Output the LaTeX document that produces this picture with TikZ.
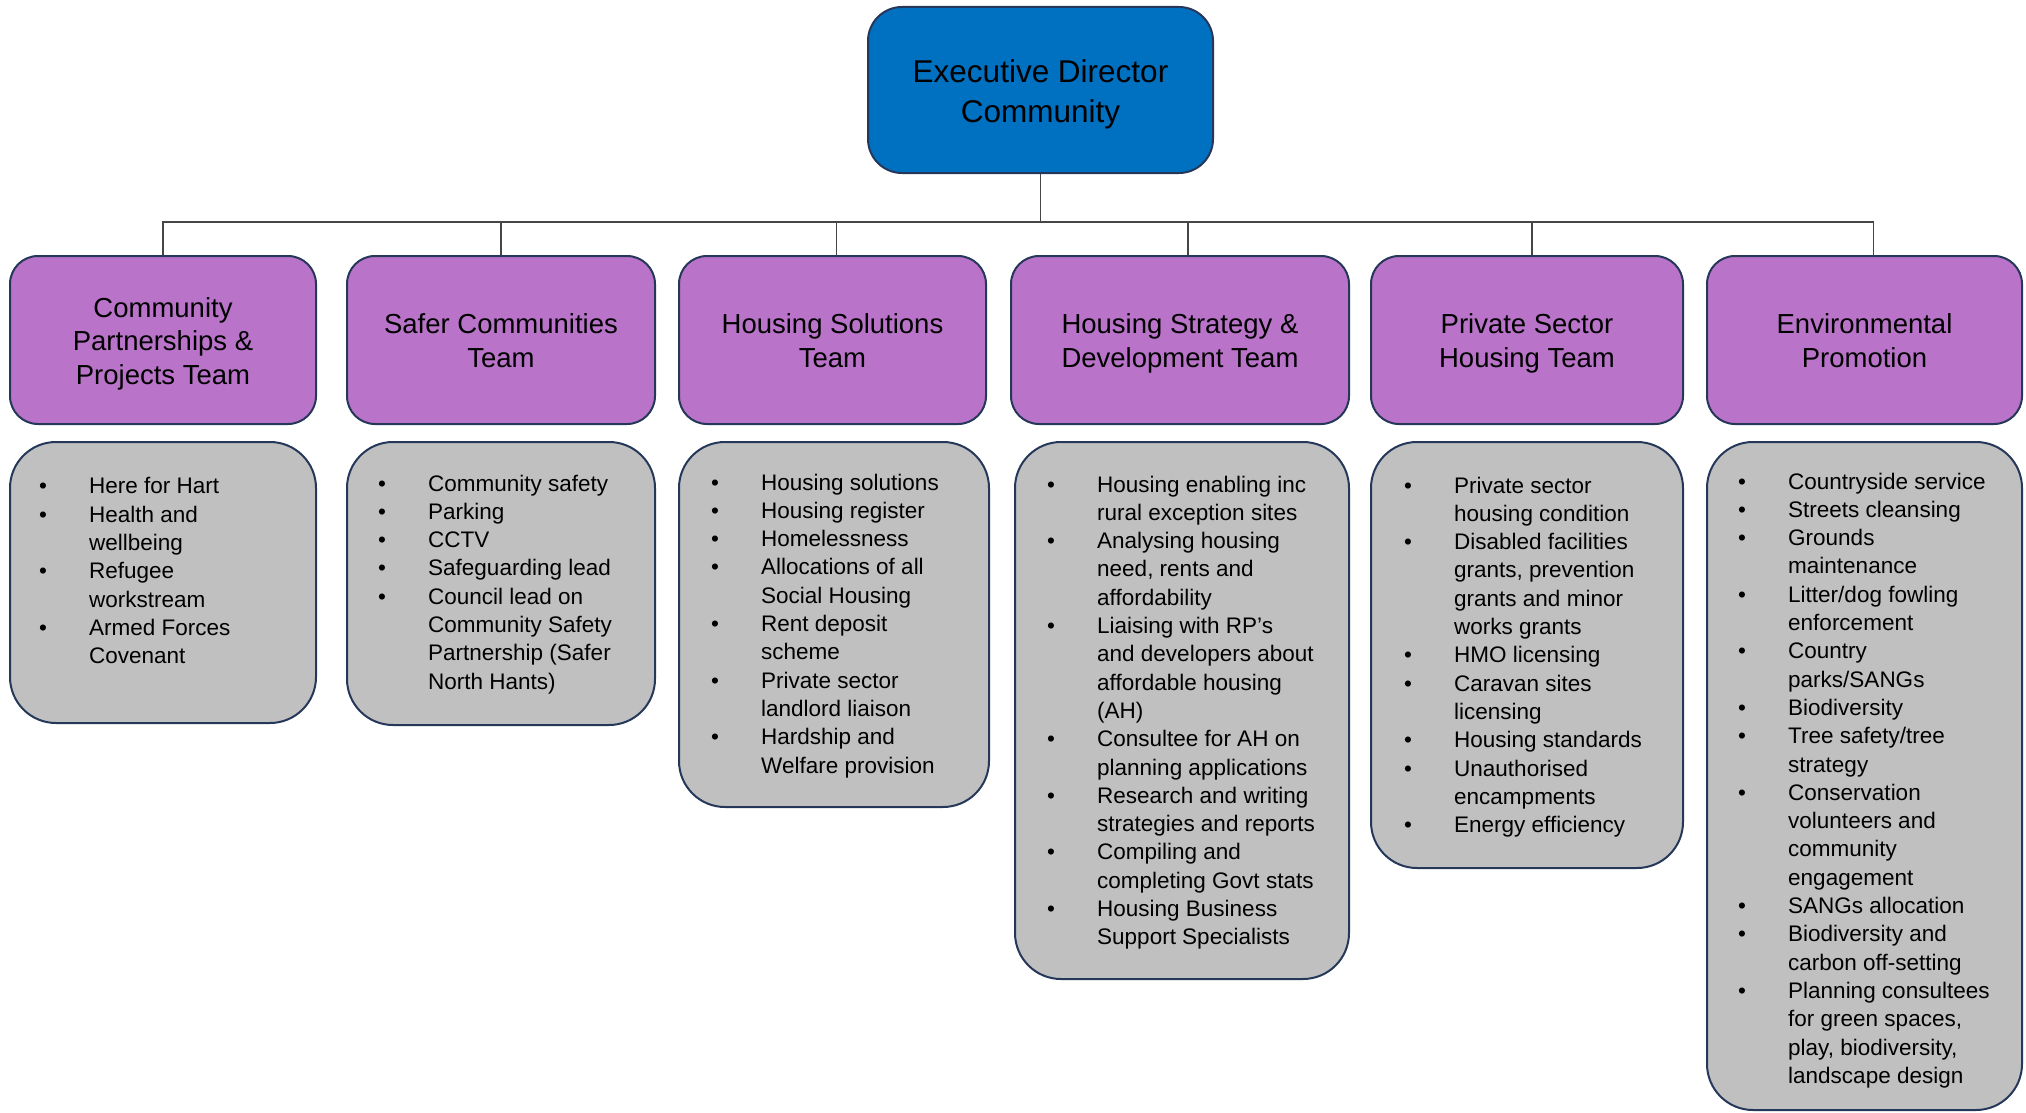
\documentclass[tikz,border=0pt]{standalone}
\usepackage{fontspec}
\setmainfont{Liberation Sans}
\definecolor{topblue}{RGB}{0,112,192}
\definecolor{hdrpurple}{RGB}{185,115,201}
\definecolor{itemgrey}{RGB}{192,192,192}
\definecolor{edgec}{RGB}{38,56,90}
\definecolor{connc}{RGB}{70,70,70}
\newcommand\bul{\makebox[50pt][l]{\textbullet}}
\newcommand\ind{\hspace*{50pt}}
\newcommand\hs{\rule{0pt}{31.5pt}}
\newcommand\ts{\rule{0pt}{38pt}}
\begin{document}
\begin{tikzpicture}[x=1pt,y=-1pt,
 topbox/.style={draw=edgec, line width=2pt, fill=topblue, rounded corners=34pt, anchor=north west, inner sep=0pt, align=center, font=\fontsize{31.5}{40}\selectfont},
 hdr/.style={draw=edgec, line width=2pt, fill=hdrpurple, rounded corners=28pt, anchor=north west, minimum height=168pt, inner sep=0pt, align=center, font=\fontsize{27.5}{33.6}\selectfont},
 itembox/.style={draw=edgec, line width=2pt, fill=itemgrey, rounded corners=46pt, anchor=north west, inner sep=0pt},
 items/.style={anchor=north west, inner sep=0pt, align=left, font=\fontsize{22.5}{28.3}\selectfont},
 conn/.style={draw=connc, line width=1.3pt}]
\useasboundingbox (0,0) rectangle (2026,1113);

\node[topbox, minimum width=345pt, minimum height=166pt] (top) at (867,6) {\ts Executive Director\\Community\strut};

\node[hdr, minimum width=306pt] (h1) at (9,255) {\hs Community\\Partnerships \&\\Projects Team\strut};
\node[hdr, minimum width=308pt] (h2) at (346,255) {\hs Safer Communities\\Team\strut};
\node[hdr, minimum width=307pt] (h3) at (678,255) {\hs Housing Solutions\\Team\strut};
\node[hdr, minimum width=338pt] (h4) at (1010,255) {\hs Housing Strategy \&\\Development Team\strut};
\node[hdr, minimum width=312pt] (h5) at (1370,255) {\hs Private Sector\\Housing Team\strut};
\node[hdr, minimum width=315pt] (h6) at (1706,255) {\hs Environmental\\Promotion\strut};

\coordinate (bus) at (1040,222);
\draw[conn] (top.south) -- (top.south |- bus) -| (h1.north);
\draw[conn] (top.south |- bus) -| (h2.north);
\draw[conn] (top.south |- bus) -| ([xshift=4pt]h3.north);
\draw[conn] (top.south |- bus) -| ([xshift=8pt]h4.north);
\draw[conn] (top.south |- bus) -| ([xshift=5pt]h5.north);
\draw[conn] (top.south |- bus) -| ([xshift=9pt]h6.north);

\node[itembox, minimum width=306pt, minimum height=281pt] (g1) at (9,441) {};
\node[itembox, minimum width=308pt, minimum height=283pt] (g2) at (346,441) {};
\node[itembox, minimum width=310pt, minimum height=365pt] (g3) at (678,441) {};
\node[itembox, minimum width=334pt, minimum height=537pt] (g4) at (1014,441) {};
\node[itembox, minimum width=312pt, minimum height=426pt] (g5) at (1370,441) {};
\node[itembox, minimum width=315pt, minimum height=668pt] (g6) at (1706,441) {};

\node[items] (t1) at (39,477.5) {\bul Here for Hart\\
\bul Health and\\ \ind wellbeing\\
\bul Refugee\\ \ind workstream\\
\bul Armed Forces\\ \ind Covenant};

\node[items] (t2) at (378,474.5) {\bul Community safety\\
\bul Parking\\
\bul CCTV\\
\bul Safeguarding lead\\
\bul Council lead on\\ \ind Community Safety\\ \ind Partnership (Safer\\ \ind North Hants)};

\node[items] (t3) at (711,473.5) {\bul Housing solutions\\
\bul Housing register\\
\bul Homelessness\\
\bul Allocations of all\\ \ind Social Housing\\
\bul Rent deposit\\ \ind scheme\\
\bul Private sector\\ \ind landlord liaison\\
\bul Hardship and\\ \ind Welfare provision};

\node[items] (t4) at (1047,475.5) {\bul Housing enabling inc\\ \ind rural exception sites\\
\bul Analysing housing\\ \ind need, rents and\\ \ind affordability\\
\bul Liaising with RP’s\\ \ind and developers about\\ \ind affordable housing\\ \ind (AH)\\
\bul Consultee for AH on\\ \ind planning applications\\
\bul Research and writing\\ \ind strategies and reports\\
\bul Compiling and\\ \ind completing Govt stats\\
\bul Housing Business\\ \ind Support Specialists};

\node[items] (t5) at (1404,476.5) {\bul Private sector\\ \ind housing condition\\
\bul Disabled facilities\\ \ind grants, prevention\\ \ind grants and minor\\ \ind works grants\\
\bul HMO licensing\\
\bul Caravan sites\\ \ind licensing\\
\bul Housing standards\\
\bul Unauthorised\\ \ind encampments\\
\bul Energy efficiency};

\node[items] (t6) at (1738,472.5) {\bul Countryside service\\
\bul Streets cleansing\\
\bul Grounds\\ \ind maintenance\\
\bul Litter/dog fowling\\ \ind enforcement\\
\bul Country\\ \ind parks/SANGs\\
\bul Biodiversity\\
\bul Tree safety/tree\\ \ind strategy\\
\bul Conservation\\ \ind volunteers and\\ \ind community\\ \ind engagement\\
\bul SANGs allocation\\
\bul Biodiversity and\\ \ind carbon off-setting\\
\bul Planning consultees\\ \ind for green spaces,\\ \ind play, biodiversity,\\ \ind landscape design};
\end{tikzpicture}
\end{document}
